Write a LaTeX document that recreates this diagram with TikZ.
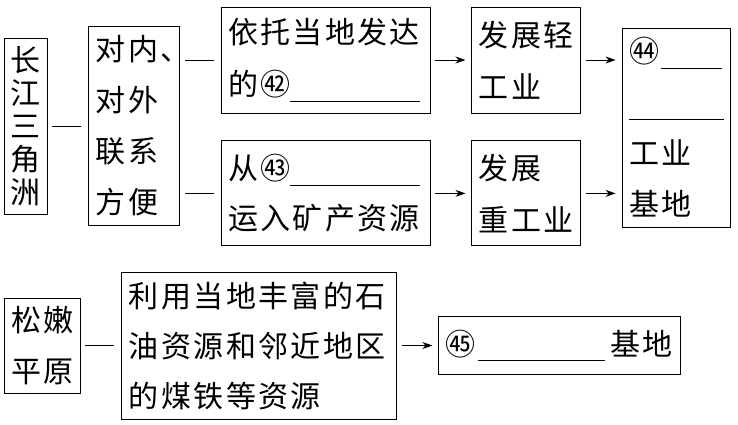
\documentclass[tikz,border=0pt]{standalone}
\usepackage{fontspec}
\newfontfamily\cjk[LetterSpace=8]{Noto Sans CJK SC}
\usepackage{tikz}
\usetikzlibrary{positioning}
\usetikzlibrary{shapes,arrows.meta}
\tikzstyle{block} = [rectangle, draw, line width=0.9pt, inner xsep=7pt, inner ysep=0pt,
    align=left, font=\cjk\fontsize{30}{52}\selectfont]
\tikzstyle{line} = [draw, line width=0.8pt, shorten <=5pt, shorten >=7pt]
\tikzstyle{aline} = [draw, line width=0.8pt, shorten <=5pt, shorten >=6pt,
    -{Stealth[length=10pt,width=7pt]}]
\newcommand{\blank}[1]{\rule[-6pt]{#1pt}{0.8pt}}

\begin{document}
\begin{tikzpicture}[x=1pt, y=-1pt]
        \useasboundingbox (0,0) rectangle (738,425);
        % nodes
        \node [block, minimum width=43pt, minimum height=176pt, inner xsep=0pt, align=center,
            font=\cjk\fontsize{30}{33}\selectfont] (cjsj) at (25.5,126) {长\\江\\三\\角\\洲};
        \node [block, right=41pt of cjsj, minimum width=91pt, minimum height=199pt, text width=77pt,
            font=\cjk\fontsize{30}{51}\selectfont] (dnw) {对内、\\对外\\联系\\方便};
        \node [block, minimum width=209pt, minimum height=106pt, text width=195pt] (yt) at (325.5,60)
            {依托当地发达\\的㊷\blank{130}};
        \node [block, below=27pt of yt, minimum width=209pt, minimum height=105pt, text width=195pt,
            font=\cjk\fontsize{30}{50}\selectfont] (cong) {从㊸\blank{130}\\运入矿产资源};
        \node [block, right=41pt of yt, minimum width=109pt, minimum height=106pt, text width=95pt] (qing) {发展轻\\工业};
        \node [block, below=27pt of qing, minimum width=109pt, minimum height=105pt, text width=95pt] (zhong) {发展\\重工业};
        \node [block, minimum width=108pt, minimum height=199pt, text width=94pt,
            font=\cjk\fontsize{30}{51}\selectfont] (jd44) at (676,127.5) {㊹\hspace{1.5pt}\blank{61}\\\blank{95}\\工业\\基地};
        \node [block, minimum width=76pt, minimum height=95pt, text width=62pt,
            font=\cjk\fontsize{30}{51}\selectfont] (snpy) at (42,345.5) {松嫩\\平原};
        \node [block, right=41pt of snpy, minimum width=275pt, minimum height=147pt, text width=261pt,
            font=\cjk\fontsize{30}{50}\selectfont] (ly) {利用当地丰富的石\\油资源和邻近地区\\的煤铁等资源};
        \node [block, right=41pt of ly, minimum width=242pt, minimum height=58pt, text width=228pt] (jd45)
            {㊺\hspace{2.5pt}\blank{127}\hspace{5pt}基地};
        % edges
        \path [line] (cjsj) -- (dnw);
        \path [line] (dnw.east |- yt) -- (yt);
        \path [line] (dnw.east |- cong) -- (cong);
        \path [aline] (yt) -- (qing);
        \path [aline] (cong) -- (zhong);
        \path [aline] (qing.east) -- (qing.east -| jd44.west);
        \path [aline] (zhong.east) -- (zhong.east -| jd44.west);
        \path [line] (snpy) -- (ly);
        \path [aline] (ly) -- (jd45);
    \end{tikzpicture}
\end{document}
